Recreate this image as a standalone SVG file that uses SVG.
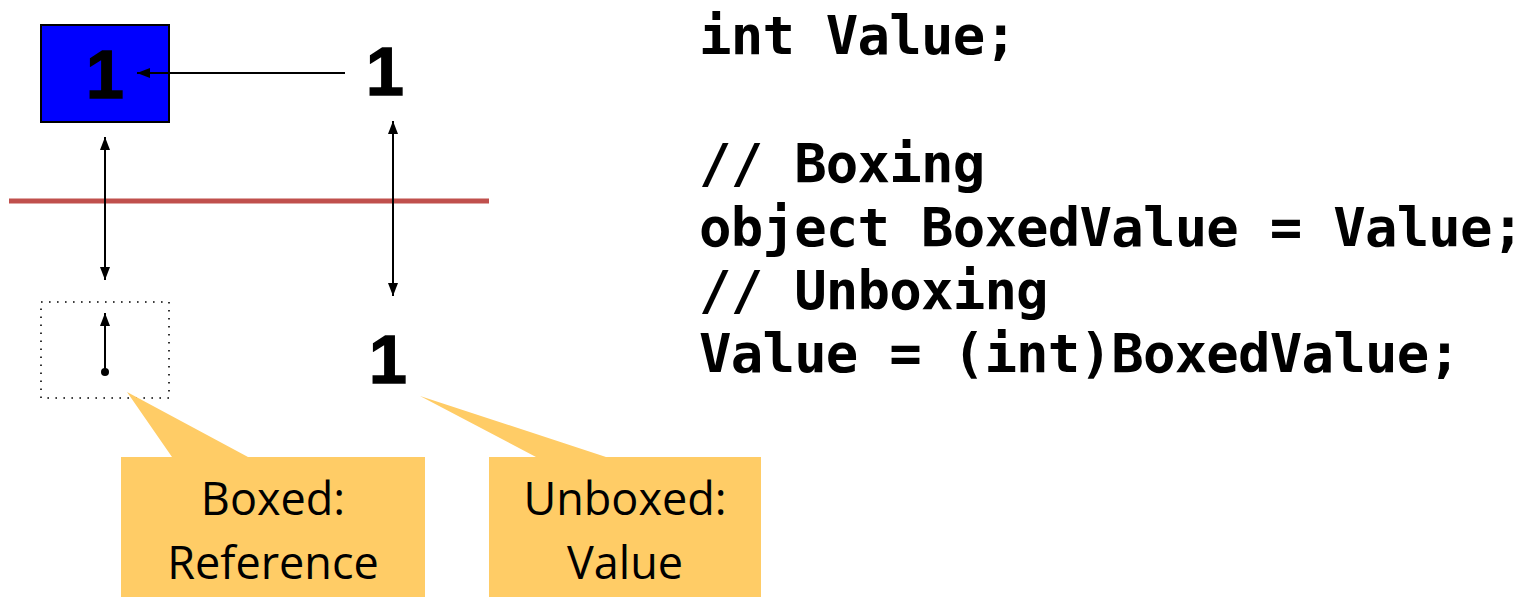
<svg xmlns="http://www.w3.org/2000/svg" width="1531" height="597" viewBox="0 0 1531 597">
<style>
.num{font-family:"Liberation Sans",Arial,sans-serif;font-weight:bold;font-size:68px;fill:#000;text-anchor:middle;stroke:#000;stroke-width:1.5}
.code{font-family:"DejaVu Sans Mono","Liberation Mono",monospace;font-weight:bold;font-size:54px;letter-spacing:-0.8px;fill:#000}
.lbl{font-family:"Open Sans","Noto Sans",sans-serif;font-size:45px;fill:#000;text-anchor:middle}
.conn{stroke:#000;stroke-width:2;fill:none}
.callout{fill:#FFCC66}
</style>
<defs>
<marker id="ah" markerUnits="userSpaceOnUse" markerWidth="14" markerHeight="10" refX="13" refY="5" orient="auto-start-reverse">
<path d="M0,0 L13,5 L0,10 Z" fill="#000"/>
</marker>
<marker id="dot" markerUnits="userSpaceOnUse" markerWidth="10" markerHeight="10" refX="5" refY="5">
<circle cx="5" cy="5" r="4" fill="#000"/>
</marker>
</defs>
<rect x="9" y="198.5" width="480" height="5" fill="#C0504D"/>
<g id="boxed-object">
<rect x="41" y="25" width="128" height="97" fill="#0000FF" stroke="#000" stroke-width="2"/>
<text class="num" x="105" y="98">1</text>
</g>
<g id="value-top">
<text class="num" x="385" y="95">1</text>
</g>
<g id="reference-slot">
<rect x="41" y="302" width="128" height="96" fill="none" stroke="#000" stroke-width="1.6" stroke-dasharray="1.6 6.4"/>
</g>
<g id="value-bottom">
<text class="num" x="388" y="383">1</text>
</g>
<g id="connectors">
<line class="conn" x1="345" y1="73" x2="137" y2="73" marker-end="url(#ah)"/>
<line class="conn" x1="105" y1="137" x2="105" y2="280" marker-start="url(#ah)" marker-end="url(#ah)"/>
<line class="conn" x1="393" y1="121" x2="393" y2="296" marker-start="url(#ah)" marker-end="url(#ah)"/>
<line class="conn" x1="105" y1="372" x2="105" y2="313" marker-start="url(#dot)" marker-end="url(#ah)"/>
</g>
<g id="callout-boxed">
<path class="callout" d="M121,457 L172,457 L127,392 L248,457 L425,457 L425,597 L121,597 Z"/>
<text class="lbl" x="273" y="515">Boxed:</text>
<text class="lbl" x="273" y="579">Reference</text>
</g>
<g id="callout-unboxed">
<path class="callout" d="M489,457 L536,457 L420,396 L606,457 L761,457 L761,597 L489,597 Z"/>
<text class="lbl" x="625" y="515">Unboxed:</text>
<text class="lbl" x="625" y="579">Value</text>
</g>
<g id="code">
<text class="code" x="699" y="54">int Value;</text>
<text class="code" x="699" y="182">// Boxing</text>
<text class="code" x="699" y="245.5">object BoxedValue = Value;</text>
<text class="code" x="699" y="309">// Unboxing</text>
<text class="code" x="699" y="372">Value = (int)BoxedValue;</text>
</g>
</svg>
